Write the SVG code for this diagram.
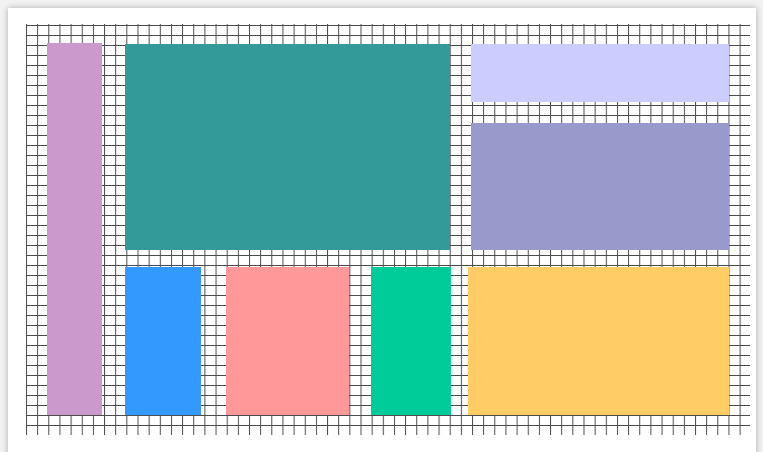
<svg xmlns="http://www.w3.org/2000/svg" width="763" height="452" viewBox="0 0 763 452">
  <style>
    .cell { stroke: none; }
  </style>
  <defs>
    <filter id="shadow" x="-5%" y="-5%" width="110%" height="110%">
      <feGaussianBlur in="SourceAlpha" stdDeviation="3"/>
      <feOffset dx="0" dy="0"/>
      <feComponentTransfer><feFuncA type="linear" slope="0.3"/></feComponentTransfer>
      <feMerge><feMergeNode/><feMergeNode in="SourceGraphic"/></feMerge>
    </filter>
    <pattern id="grid" patternUnits="userSpaceOnUse" x="26" y="25" width="11.15" height="10">
      <path d="M0 0.5 H11.15 M0.5 0 V10" fill="none" stroke="#000" stroke-width="1" stroke-opacity="0.7"/>
    </pattern>
  </defs>
  <rect x="0" y="0" width="763" height="452" fill="#f2f2f2"/>
  <rect x="8" y="8" width="748" height="460" fill="#ffffff" filter="url(#shadow)"/>
  <g id="grid-bg">
    <rect x="26" y="24" width="724" height="411" fill="url(#grid)"/>
  </g>
  <g id="node-purple"><rect class="cell" x="47" y="43" width="55" height="372" fill="#cc99cc"/></g>
  <g id="node-teal"><rect class="cell" x="125" y="44" width="325" height="206" fill="#339999"/></g>
  <g id="node-lavender"><rect class="cell" x="471" y="44" width="258" height="58" fill="#ccccff"/></g>
  <g id="node-slate"><rect class="cell" x="471" y="123" width="258" height="127" fill="#9999cc"/></g>
  <g id="node-blue"><rect class="cell" x="125" y="267" width="76" height="148" fill="#3399ff"/></g>
  <g id="node-pink"><rect class="cell" x="226" y="267" width="123" height="148" fill="#ff9999"/></g>
  <g id="node-green"><rect class="cell" x="371" y="267" width="80" height="148" fill="#00cc99"/></g>
  <g id="node-orange"><rect class="cell" x="468" y="267" width="261" height="148" fill="#ffcc66"/></g>
  <g id="connectors"></g>
</svg>
